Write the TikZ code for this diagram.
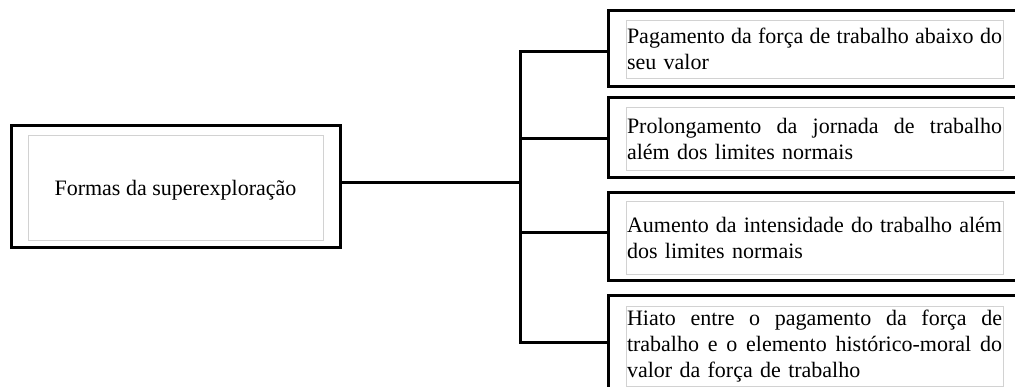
\documentclass[tikz,border=0pt]{standalone}
\usepackage{fontspec}
\setmainfont{Liberation Serif}
\usepackage{tikz}

\newcommand\fullline[1]{\makebox[375pt][s]{\spaceskip=0pt\xspaceskip=0pt #1}}

\begin{document}
\begin{tikzpicture}[x=1pt,y=-1pt,line width=3pt,
                    font=\fontsize{22}{26}\selectfont]
\tikzstyle{every node}=[]
\tikzstyle{frame}=[draw,rectangle,inner sep=0pt]
\tikzstyle{textbox}=[draw=gray!35,line width=0.9pt,rectangle,inner xsep=1pt,
                     inner ysep=0pt,text width=375pt,align=left]
\useasboundingbox (0,0) rectangle (1015,387);
\clip (0,0) rectangle (1015,387);

% left box
\node[frame,minimum width=329pt,minimum height=122pt] (ROOT) at (175.5,187) {};
\node[draw=gray!35,line width=0.9pt,minimum width=295pt,minimum height=105pt,
      text height=16pt,text depth=0pt]
     (ROOTT) at (175.5,187.5) {Formas da superexploração};

% right boxes
\node[frame,minimum width=422pt,minimum height=76pt] (R1) at (819,49) {};
\node[textbox,minimum height=57.5pt] (R1T) at (814.5,49.25)
     {\fullline{Pagamento da força de trabalho abaixo do}\\seu valor};
\node[frame,minimum width=422pt,minimum height=80pt] (R2) at (819,138) {};
\node[textbox,minimum height=63pt] (R2T) at (814.5,138.5)
     {\fullline{Prolongamento da jornada de trabalho}\\além dos limites normais};
\node[frame,minimum width=422pt,minimum height=88pt] (R3) at (819,237) {};
\node[textbox,minimum height=73pt] (R3T) at (814.5,237.5)
     {\fullline{Aumento da intensidade do trabalho além}\\dos limites normais};
\node[frame,minimum width=422pt,minimum height=124pt] (R4) at (819,358) {};
\node[textbox,minimum height=80pt] (R4T) at (814.5,346)
     {\fullline{Hiato entre o pagamento da força de}\\
      \fullline{trabalho e o elemento histórico-moral do}\\valor da força de trabalho};

% connectors
\coordinate (J1) at (520,52);
\coordinate (J2) at (520,139);
\coordinate (J3) at (520,233);
\coordinate (J4) at (520,343);
\coordinate (JR) at (520,183);

\draw (R1.west |- J1) -- (J1) -- (J4) -- (R4.west |- J4);
\draw (J2) -- (R2.west |- J2);
\draw (J3) -- (R3.west |- J3);
\draw (ROOT.east |- JR) -- (JR);
\end{tikzpicture}
\end{document}
